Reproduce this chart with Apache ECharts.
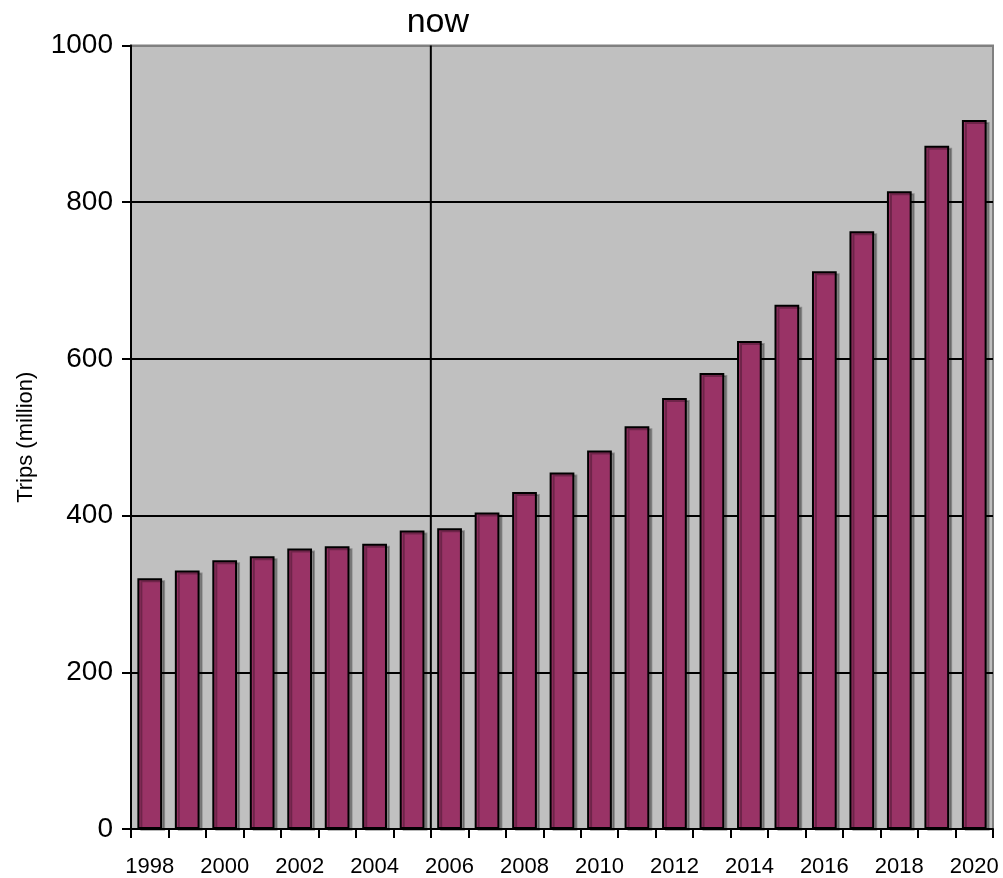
<!DOCTYPE html>
<html>
<head>
<meta charset="utf-8">
<title>Trips (million)</title>
<script src="https://cdn.jsdelivr.net/npm/echarts@6/dist/echarts.min.js"></script>
<style>
  html, body { margin: 0; padding: 0; background: #ffffff; }
  #chart { width: 1003px; height: 878px; }
</style>
</head>
<body>
<div id="chart"></div>
<script>
// Annual trips, 1998-2020, in millions
const years = ['1998','1999','2000','2001','2002','2003','2004','2005','2006','2007','2008','2009',
               '2010','2011','2012','2013','2014','2015','2016','2017','2018','2019','2020'];
const trips = [320, 330, 343, 348, 358, 361, 364, 381, 384, 404, 430, 455,
               483, 514, 550, 582, 623, 669, 712, 763, 814, 872, 905];

// First forecast year; the "now" divider sits at the start of this year
const nowYear = 2006;
const nowLabel = 'now';

// Value axis ticks
const yMin = 0, yMax = 1000, yStep = 200;

const FONT = '"Liberation Sans", Arial, sans-serif';
const firstYear = Number(years[0]);
const lastYear = Number(years[years.length - 1]);

const chart = echarts.init(document.getElementById('chart'), null, { renderer: 'canvas' });

chart.setOption({
  animation: false,
  backgroundColor: '#ffffff',
  grid: {
    left: 131, right: 10, top: 45.5, bottom: 46.5,
    show: true,
    backgroundColor: '#c0c0c0',
    borderColor: '#808080',
    borderWidth: 2
  },
  xAxis: [
    {
      type: 'category',
      data: years,
      boundaryGap: true,
      axisLine: { show: true, lineStyle: { color: '#000', width: 2 } },
      axisTick: { show: true, interval: 0, length: 9, alignWithLabel: false,
                  lineStyle: { color: '#000', width: 2 } },
      axisLabel: { interval: 1, margin: 27, color: '#000', fontSize: 22, fontFamily: FONT },
      splitLine: { show: false }
    },
    {
      // Continuous year scale over the same span, used to place the "now" divider
      type: 'value',
      min: firstYear - 0.5,
      max: lastYear + 0.5,
      show: false
    }
  ],
  yAxis: {
    type: 'value',
    min: yMin, max: yMax, interval: yStep,
    name: 'Trips (million)',
    nameLocation: 'middle',
    nameGap: 94,
    nameTextStyle: { color: '#000', fontSize: 22, fontFamily: FONT },
    axisLine: { show: true, lineStyle: { color: '#000', width: 2 } },
    axisTick: { show: true, length: 9, lineStyle: { color: '#000', width: 2 } },
    axisLabel: { margin: 18, color: '#000', fontSize: 28, fontFamily: FONT,
                 formatter: (v) => String(v) },
    splitLine: {
      show: true,
      lineStyle: { color: ['#000', '#000', '#000', '#000', '#000', '#808080'], width: 2 }
    }
  },
  series: [
    {
      type: 'bar',
      data: trips,
      barCategoryGap: '34%',
      itemStyle: {
        color: '#993366',
        borderColor: '#000',
        borderWidth: 2,
        shadowColor: 'rgba(0,0,0,0.28)',
        shadowOffsetX: 3,
        shadowOffsetY: 2,
        shadowBlur: 0
      },
      z: 3
    },
    {
      type: 'line',
      xAxisIndex: 1,
      data: [[nowYear - 0.5, yMin], [nowYear - 0.5, yMax]],
      symbol: 'circle',
      symbolSize: 0,
      showSymbol: true,
      clip: false,
      itemStyle: { color: '#000' },
      lineStyle: { color: '#000', width: 2 },
      label: {
        show: true,
        position: 'top',
        distance: 6,
        offset: [7, 0],
        formatter: (p) => (p.dataIndex === 1 ? nowLabel : ''),
        color: '#000',
        fontSize: 34,
        fontFamily: FONT
      },
      emphasis: { disabled: true },
      z: 4
    }
  ]
});
</script>
</body>
</html>
